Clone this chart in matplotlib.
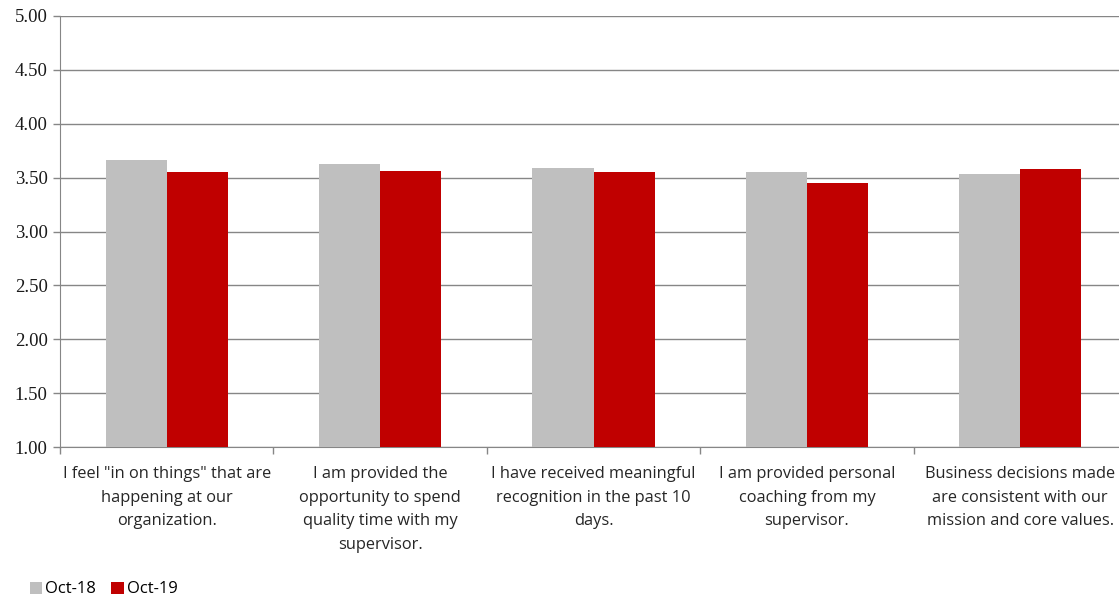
import numpy as np
import matplotlib.pyplot as plt

categories = [
    'I feel "in on things" that are\nhappening at our\norganization.',
    'I am provided the\nopportunity to spend\nquality time with my\nsupervisor.',
    'I have received meaningful\nrecognition in the past 10\ndays.',
    'I am provided personal\ncoaching from my\nsupervisor.',
    'Business decisions made\nare consistent with our\nmission and core values.',
]
oct18 = [3.66, 3.63, 3.59, 3.55, 3.53]
oct19 = [3.55, 3.56, 3.55, 3.45, 3.58]
series_names = ['Oct-18', 'Oct-19']
yticks = [1.00, 1.50, 2.00, 2.50, 3.00, 3.50, 4.00, 4.50, 5.00]

W, H = 1119, 596
fig = plt.figure(figsize=(W / 100, H / 100), dpi=100)
ax = fig.add_axes([60 / W, (H - 447) / H, 1067 / W, 431 / H])

x = np.arange(len(categories))
bw = 0.286
grid_c = '#868686'
ax.bar(x - bw / 2, oct18, bw, bottom=0, color='#BFBFBF', label=series_names[0], zorder=3)
ax.bar(x + bw / 2, oct19, bw, bottom=0, color='#C00000', label=series_names[1], zorder=3)

ax.set_xlim(-0.5, len(categories) - 0.5)
ax.set_ylim(1, 5)
ax.set_yticks(yticks)
ax.set_yticklabels([f'{v:.2f}' for v in yticks], family='Liberation Serif', fontsize=13.5, color='#1a1a1a')
ax.yaxis.grid(True, color=grid_c, lw=1, zorder=0)
ax.tick_params(axis='y', length=5, color=grid_c, width=1, pad=4)

ax.set_xticks(x)
ax.set_xticklabels(categories, family='Open Sans', fontsize=11.8, color='#262626', linespacing=1.62)
ax.set_xticks(np.arange(len(categories) + 1) - 0.5, minor=True)
ax.tick_params(axis='x', which='major', length=0, pad=14)
ax.tick_params(axis='x', which='minor', length=5, color=grid_c, width=1)

for s in ['top', 'right']:
    ax.spines[s].set_visible(False)
ax.spines['left'].set_color(grid_c)
ax.spines['bottom'].set_color(grid_c)

fig.legend(loc='lower left', bbox_to_anchor=(18 / W, -0.022), ncol=2, frameon=False,
           prop={'family': 'Open Sans', 'size': 12}, handlelength=0.75, handleheight=0.75,
           handletextpad=0.2, columnspacing=0.9, borderaxespad=0.3)

fig.savefig('out.png', dpi=100)
